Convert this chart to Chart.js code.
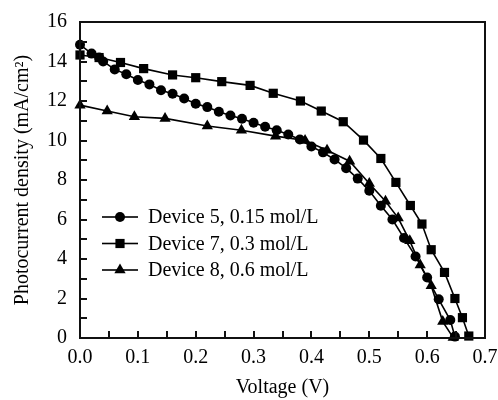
<!DOCTYPE html>
<html>
<head>
<meta charset="utf-8">
<script src="https://cdn.jsdelivr.net/npm/chart.js@4.4.1/dist/chart.umd.min.js"></script>
<style>
  html, body { margin: 0; padding: 0; background: #ffffff; }
  #wrap { width: 498px; height: 400px; position: relative; }
</style>
</head>
<body>
<div id="wrap"><canvas id="jv-chart"></canvas></div>
<script>
const seriesLabels = ["Device 5, 0.15 mol/L", "Device 7, 0.3 mol/L", "Device 8, 0.6 mol/L"];

const device5Voltage = [0, 0.02, 0.033, 0.04, 0.06, 0.08, 0.10, 0.12, 0.14, 0.16, 0.18, 0.20, 0.22, 0.24, 0.26, 0.28, 0.30, 0.32, 0.34, 0.36, 0.38, 0.40, 0.42, 0.44, 0.46, 0.48, 0.50, 0.52, 0.54, 0.56, 0.58, 0.60, 0.62, 0.64, 0.648];
const device5Current = [14.85, 14.4, 14.2, 14.0, 13.6, 13.35, 13.06, 12.84, 12.54, 12.37, 12.13, 11.86, 11.69, 11.46, 11.27, 11.1, 10.9, 10.7, 10.52, 10.3, 10.05, 9.7, 9.4, 9.04, 8.6, 8.07, 7.46, 6.7, 6.0, 5.06, 4.13, 3.06, 1.96, 0.91, 0.07];

const device7Voltage = [0, 0.033, 0.07, 0.11, 0.16, 0.20, 0.245, 0.294, 0.334, 0.381, 0.417, 0.455, 0.49, 0.52, 0.546, 0.571, 0.591, 0.607, 0.63, 0.648, 0.661, 0.672];
const device7Current = [14.33, 14.2, 13.95, 13.64, 13.32, 13.18, 12.98, 12.79, 12.39, 12.0, 11.49, 10.95, 10.02, 9.09, 7.88, 6.71, 5.77, 4.47, 3.32, 2.0, 1.03, 0.1];

const device8Voltage = [0, 0.047, 0.094, 0.147, 0.22, 0.279, 0.338, 0.389, 0.427, 0.466, 0.50, 0.528, 0.55, 0.57, 0.588, 0.607, 0.627, 0.645];
const device8Current = [11.79, 11.49, 11.2, 11.12, 10.73, 10.52, 10.22, 10.0, 9.51, 8.95, 7.82, 6.92, 6.07, 4.92, 3.7, 2.64, 0.83, 0.02];

const markerStyles = ["circle", "rect", "triangle"];
const markerSizes = [5, 6.5, 6.5];

// labelled ticks, plus the unlabelled minor ticks between them
const xTicks = [0, 0.1, 0.2, 0.3, 0.4, 0.5, 0.6, 0.7];
const xMinorTicks = [0.05, 0.15, 0.25, 0.35, 0.45, 0.55, 0.65];
const yTicks = [0, 2, 4, 6, 8, 10, 12, 14, 16];
const yMinorTicks = [1, 3, 5, 7, 9, 11, 13, 15];

const FONT = "'Liberation Serif', 'Times New Roman', serif";
const INK = "#111111";

function toPoints(xs, ys) {
  return xs.map((x, i) => ({ x: x, y: ys[i] }));
}

function makeDataset(index, xs, ys) {
  return {
    label: seriesLabels[index],
    data: toPoints(xs, ys),
    borderColor: "#000",
    backgroundColor: "#000",
    borderWidth: 1.6,
    pointStyle: markerStyles[index],
    pointRadius: markerSizes[index],
    pointBackgroundColor: "#000",
    pointBorderColor: "#000",
    pointBorderWidth: 0,
    tension: 0,
    fill: false,
    clip: 8,
  };
}

function drawFrame(chart) {
  const ctx = chart.ctx;
  const area = chart.chartArea;
  const xScale = chart.scales.x;
  const yScale = chart.scales.y;
  ctx.save();
  ctx.fillStyle = INK;
  ctx.fillRect(area.left - 1, area.top - 1, area.right - area.left + 2, 2);
  ctx.fillRect(area.left - 1, area.bottom - 1, area.right - area.left + 2, 2);
  ctx.fillRect(area.left - 1, area.top - 1, 2, area.bottom - area.top + 2);
  ctx.fillRect(area.right - 1, area.top - 1, 2, area.bottom - area.top + 2);

  xMinorTicks.concat(xTicks).forEach((v) => {
    const px = Math.round(xScale.getPixelForValue(v));
    ctx.fillRect(px - 1, area.bottom - 7, 2, 7);
  });
  yMinorTicks.concat(yTicks).forEach((v) => {
    const py = Math.round(yScale.getPixelForValue(v));
    ctx.fillRect(area.left, py - 1, 7, 2);
  });
  ctx.restore();
}

// box round the plot with inward ticks
const plotFrame = {
  id: "plotFrame",
  beforeDatasetsDraw(chart) {
    drawFrame(chart);
  },
  afterDraw(chart) {
    drawFrame(chart);
  },
};

// legend inside the plot: line sample with marker, then label
const insideLegend = {
  id: "insideLegend",
  afterDatasetsDraw(chart) {
    const ctx = chart.ctx;
    const area = chart.chartArea;
    ctx.save();
    const lx = area.left + 22;
    let ly = area.top + 195;
    chart.data.datasets.forEach((ds) => {
      ctx.fillStyle = "#000000";
      ctx.fillRect(lx, ly - 0.8, 36, 1.6);
      Chart.helpers.drawPoint(ctx, { pointStyle: ds.pointStyle, radius: ds.pointRadius, borderWidth: 0 }, lx + 18, ly);
      ctx.font = "20px " + FONT;
      ctx.textBaseline = "middle";
      ctx.fillText(ds.label, lx + 46, ly + 1);
      ly += 26.5;
    });
    ctx.restore();
  },
};

new Chart(document.getElementById("jv-chart"), {
  type: "line",
  data: {
    datasets: [
      makeDataset(0, device5Voltage, device5Current),
      makeDataset(1, device7Voltage, device7Current),
      makeDataset(2, device8Voltage, device8Current),
    ],
  },
  options: {
    responsive: true,
    maintainAspectRatio: false,
    animation: false,
    layout: { padding: { top: 22, right: 13, left: 0, bottom: 0 } },
    plugins: {
      legend: { display: false },
      tooltip: { enabled: false },
    },
    scales: {
      x: {
        type: "linear",
        min: 0,
        max: 0.7,
        afterBuildTicks: (scale) => { scale.ticks = xTicks.map((v) => ({ value: v })); },
        afterFit: (scale) => {
          scale.height = 62;
          scale.paddingLeft = 0;
          scale.paddingRight = 0;
        },
        grid: { display: false, drawTicks: false },
        border: { display: false },
        ticks: {
          color: "#000",
          padding: 8,
          font: { family: FONT, size: 20 },
          callback: (v) => v.toFixed(1),
        },
        title: {
          display: true,
          text: "Voltage (V)",
          color: "#000",
          font: { family: FONT, size: 20 },
          padding: { top: 2, bottom: 0 },
        },
      },
      y: {
        type: "linear",
        min: 0,
        max: 16,
        afterBuildTicks: (scale) => { scale.ticks = yTicks.map((v) => ({ value: v })); },
        afterFit: (scale) => {
          scale.width = 80;
          scale.paddingTop = 0;
          scale.paddingBottom = 0;
        },
        grid: { display: false, drawTicks: false },
        border: { display: false },
        ticks: {
          color: "#000",
          padding: 13,
          font: { family: FONT, size: 20 },
        },
        title: {
          display: true,
          text: "Photocurrent density (mA/cm²)",
          color: "#000",
          font: { family: FONT, size: 20 },
          padding: { top: 11, bottom: 0 },
        },
      },
    },
  },
  plugins: [plotFrame, insideLegend],
});
</script>
</body>
</html>
